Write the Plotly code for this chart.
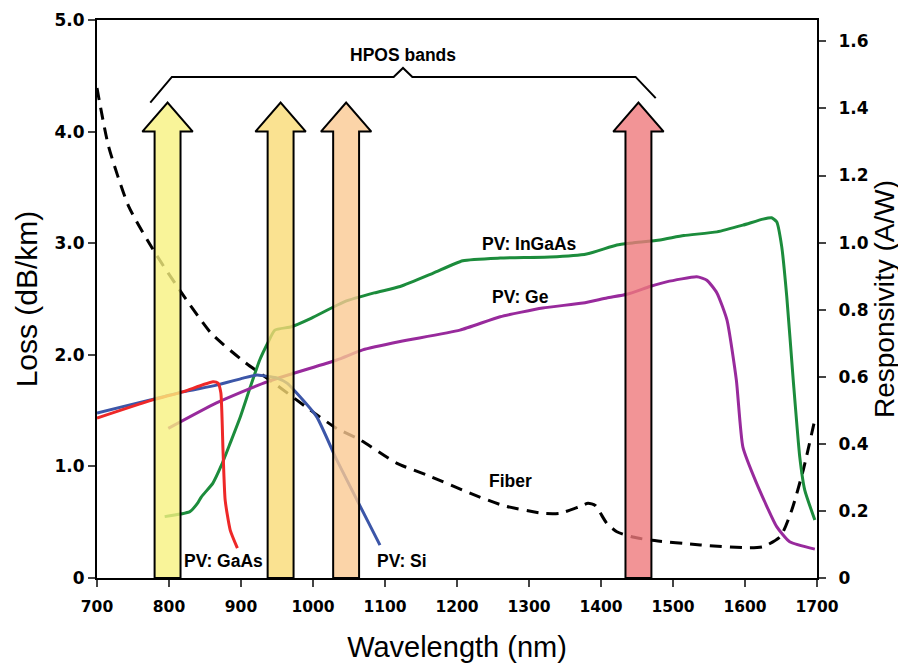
import plotly.graph_objects as go

# ---------------- data ----------------
fiber_wl = [700, 716, 744, 781, 818, 859, 906, 943, 993, 1033, 1065, 1116, 1163, 1218, 1264,
            1319, 1343, 1370, 1382, 1392, 1408, 1422, 1444, 1468, 1538, 1607, 1625, 1649, 1665, 1681, 1697]
fiber_loss = [4.39, 3.87, 3.33, 2.91, 2.55, 2.19, 1.93, 1.76, 1.52, 1.34, 1.24, 1.03, 0.91, 0.76, 0.65,
              0.58, 0.58, 0.64, 0.67, 0.65, 0.49, 0.415, 0.367, 0.34, 0.296, 0.27, 0.28, 0.37, 0.61, 0.97, 1.42]

ingaas_wl = [794, 829, 840, 845, 861, 873, 885, 899, 913, 926, 937, 947, 970, 998, 1044, 1085, 1121,
             1167, 1208, 1260, 1329, 1380, 1422, 1444, 1482, 1515, 1561, 1597, 1625, 1637, 1644,
             1651, 1658, 1667, 1676, 1683, 1697]
ingaas_r = [0.183, 0.198, 0.224, 0.242, 0.283, 0.337, 0.402, 0.48, 0.57, 0.65, 0.70, 0.739, 0.749, 0.775,
            0.824, 0.85, 0.869, 0.909, 0.946, 0.954, 0.957, 0.966, 0.993, 0.999, 1.008, 1.021, 1.032,
            1.052, 1.07, 1.074, 1.062, 0.988, 0.839, 0.59, 0.362, 0.262, 0.173]

ge_wl = [799, 866, 936, 1033, 1069, 1121, 1204, 1260, 1319, 1375, 1408, 1436, 1468, 1491, 1533,
         1547, 1561, 1575, 1588, 1597, 1616, 1644, 1662, 1697]
ge_r = [0.446, 0.522, 0.585, 0.65, 0.68, 0.705, 0.739, 0.779, 0.805, 0.82, 0.835, 0.846, 0.869, 0.883,
        0.898, 0.888, 0.85, 0.769, 0.59, 0.391, 0.283, 0.153, 0.108, 0.086]

si_wl = [700, 774, 819, 866, 903, 922, 940, 950, 964, 977, 1005, 1033, 1061, 1093]
si_r = [0.492, 0.531, 0.555, 0.575, 0.596, 0.605, 0.60, 0.596, 0.581, 0.552, 0.481, 0.352, 0.233, 0.098]

gaas_wl = [700, 774, 819, 861, 868, 872, 875, 878, 885, 895]
gaas_r = [0.477, 0.529, 0.555, 0.585, 0.581, 0.552, 0.381, 0.232, 0.143, 0.089]

band_centers = [798, 955, 1046, 1452]
band_colors = ["rgba(247,241,128,0.80)", "rgba(249,219,118,0.80)",
               "rgba(250,201,146,0.80)", "rgba(239,121,124,0.80)"]

x_ticks = list(range(700, 1701, 100))
loss_ticks = [0, 1, 2, 3, 4, 5]
loss_ticktext = ["0", "1.0", "2.0", "3.0", "4.0", "5.0"]
resp_ticks = [0, 0.2, 0.4, 0.6, 0.8, 1.0, 1.2, 1.4, 1.6]
resp_ticktext = ["0", "0.2", "0.4", "0.6", "0.8", "1.0", "1.2", "1.4", "1.6"]

# ---------------- figure ----------------
FONT = "Liberation Sans, Arial, sans-serif"
TICKFONT = "DejaVu Sans, sans-serif"
fig = go.Figure()

fig.add_trace(go.Scatter(x=fiber_wl, y=fiber_loss, mode="lines", yaxis="y",
                         line=dict(color="black", width=3, dash="12px,8px", shape="spline", smoothing=0.6)))

line_sets = [
    (ingaas_wl, ingaas_r, "#1c8c3c"),
    (ge_wl, ge_r, "#982a9c"),
    (si_wl, si_r, "#3c56a8"),
    (gaas_wl, gaas_r, "#ee2828"),
]
for wl, r, col in line_sets:
    fig.add_trace(go.Scatter(x=wl, y=r, mode="lines", yaxis="y2",
                             line=dict(color=col, width=3, shape="spline", smoothing=0.5)))

# arrows (on an invisible overlay axis with loss scale, drawn above the curves)
shaft_hw, head_hw, head_base, head_tip = 18, 35, 4.0, 4.26
for c, col in zip(band_centers, band_colors):
    xs = [c - shaft_hw, c - shaft_hw, c - head_hw, c, c + head_hw, c + shaft_hw, c + shaft_hw, c - shaft_hw]
    ys = [0, head_base, head_base, head_tip, head_base, head_base, 0, 0]
    fig.add_trace(go.Scatter(x=xs, y=ys, yaxis="y3", mode="lines", fill="toself",
                             fillcolor=col, line=dict(color="black", width=2)))

# bracket
left = band_centers[0] - 24
right = band_centers[-1] + 24
mid = (left + right) / 2
bx = [left, left + 30, mid - 13, mid, mid + 13, right - 28, right]
by = [4.26, 4.49, 4.49, 4.57, 4.49, 4.49, 4.30]
fig.add_trace(go.Scatter(x=bx, y=by, yaxis="y3", mode="lines",
                         line=dict(color="black", width=2)))

labels = [
    ("HPOS bands", mid, 4.69),
    ("PV: GaAs", 875, 0.15),
    ("PV: Si", 1124, 0.15),
    ("Fiber", 1274, 0.87),
    ("PV: InGaAs", 1301, 2.99),
    ("PV: Ge", 1288, 2.52),
]
annotations = [dict(text=t, x=x, y=y, xref="x", yref="y", showarrow=False,
                    font=dict(family=FONT, size=17.5, color="black", weight="bold"))
               for t, x, y in labels]

xtickfont = dict(family=TICKFONT, size=15.5, color="black", weight="bold")
ytickfont = dict(family=TICKFONT, size=17, color="black", weight="bold")
titlefont_x = dict(family=FONT, size=29, color="black")
titlefont_y = dict(family=FONT, size=30, color="black")
titlefont_y2 = dict(family=FONT, size=28, color="black")

fig.update_layout(
    width=898, height=657,
    margin=dict(l=89, r=89, t=12, b=87),
    paper_bgcolor="white", plot_bgcolor="white",
    showlegend=False,
    annotations=annotations,
    xaxis=dict(range=[700, 1700], tickvals=x_ticks, ticks="outside", ticklen=7, tickwidth=2,
               showline=True, linewidth=2, linecolor="black", mirror=True, showgrid=False,
               zeroline=False, tickfont=xtickfont, automargin=False, ticklabelstandoff=6,
               title=dict(text="Wavelength (nm)", font=titlefont_x, standoff=22)),
    yaxis=dict(range=[0, 5], tickvals=loss_ticks, ticktext=loss_ticktext, ticks="outside",
               ticklen=7, tickwidth=2, showline=True, linewidth=2, linecolor="black",
               showgrid=False, zeroline=False, tickfont=ytickfont, automargin=False,
               title=dict(text="Loss (dB/km)", font=titlefont_y, standoff=8)),
    yaxis2=dict(range=[0, 1.6637], tickvals=resp_ticks, ticktext=resp_ticktext, ticks="outside",
                ticklen=7, tickwidth=2, showline=True, linewidth=2, linecolor="black",
                overlaying="y", side="right", showgrid=False, zeroline=False, tickfont=ytickfont,
                automargin=False, ticklabelstandoff=9,
                title=dict(text="Responsivity (A/W)", font=titlefont_y2, standoff=6)),
    yaxis3=dict(range=[0, 5], overlaying="y", visible=False, showgrid=False, zeroline=False),
)

fig.write_html("out.html")
